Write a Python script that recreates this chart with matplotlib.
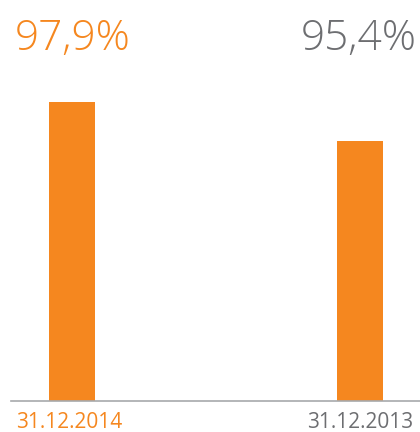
import matplotlib
matplotlib.use("Agg")
import matplotlib.pyplot as plt

# Daten
datums = ['31.12.2014', '31.12.2013']
werte = [97.9, 95.4]

orange = '#f5871f'
grau = '#6d6e71'
farben_text = [orange, grau]

W, H = 420, 432
fig = plt.figure(figsize=(W / 100, H / 100), dpi=100)
plt.rcParams['font.family'] = ['Open Sans', 'DejaVu Sans']

# Achse so legen, dass die Grundlinie bei y=400.7 px liegt
ax = fig.add_axes([11 / W, (H - 400.7) / H, 409 / W, (400.7 - 102) / H])
pos = list(range(len(werte)))
ax.bar(pos, werte, width=0.16, color=orange)
ax.set_ylim(78.8, max(werte))
ax.set_xlim(-0.2118, 1.2083)

for s in ['top', 'right', 'left']:
    ax.spines[s].set_visible(False)
ax.spines['bottom'].set_color('#a7a9ac')
ax.spines['bottom'].set_linewidth(1.2)
ax.set_xticks([])
ax.set_yticks([])

# Werte oben
def fmt(v):
    return f"{v:.1f}".replace('.', ',') + '%'

fig.text(15 / W, (H - 50) / H, fmt(werte[0]), color=farben_text[0],
         fontsize=30.5, fontweight='light', ha='left', va='baseline')
fig.text(417 / W, (H - 50) / H, fmt(werte[1]), color=farben_text[1],
         fontsize=30.5, fontweight='light', ha='right', va='baseline')

# Datumsbeschriftung unten
fig.text(16 / W, (H - 427.5) / H, datums[0], color=farben_text[0],
         fontsize=15, ha='left', va='baseline')
fig.text(413 / W, (H - 427.5) / H, datums[1], color=farben_text[1],
         fontsize=15, ha='right', va='baseline')

fig.savefig('out.png', dpi=100)
